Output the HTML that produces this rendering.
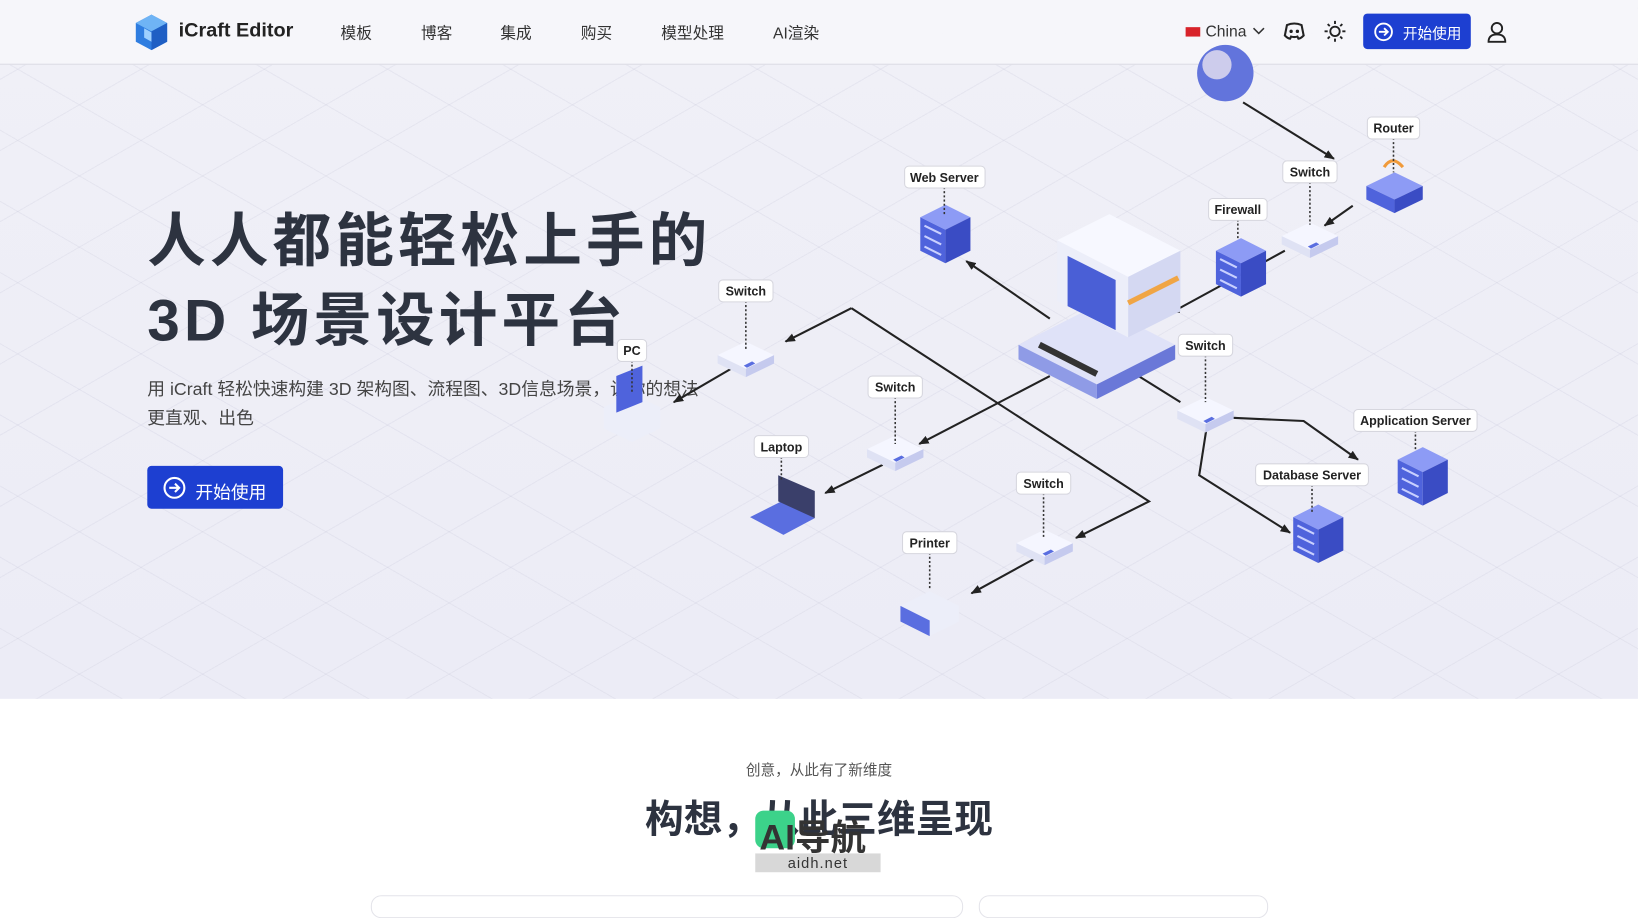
<!DOCTYPE html>
<html><head><meta charset="utf-8">
<style>
html,body{margin:0;padding:0;width:1638px;height:904px;overflow:hidden;background:#fff;}
#w{position:absolute;left:0;top:0;width:1568px;height:865px;transform:scale(1.0446);transform-origin:0 0;font-family:"Liberation Sans","Noto Sans CJK SC",sans-serif;}
.hero{position:absolute;left:0;top:0;width:1568px;height:669px;background:
repeating-linear-gradient(30deg,transparent 0 58px,rgba(190,190,210,.2) 58px 59px),
repeating-linear-gradient(-30deg,transparent 0 58px,rgba(190,190,210,.2) 58px 59px),
linear-gradient(180deg,#f0f0f7,#ececf6);}
.hdr{position:absolute;left:0;top:0;width:1568px;height:61px;background:rgba(246,246,250,.97);border-bottom:1px solid #dcdce4;}
.nav{position:absolute;top:21px;font-size:15px;color:#333;}
.t{position:absolute;white-space:nowrap;}
</style></head><body><div id="w">
<div class="hero"></div>
<div class="hdr">
<svg style="position:absolute;left:128px;top:13px" width="34" height="36" viewBox="0 0 34 36"><polygon points="17,1 32,9 32,27 17,35 2,27 2,9" fill="#2f7de0"/><polygon points="17,1 32,9 17,17 2,9" fill="#6fb4f5"/><polygon points="17,17 32,9 32,27 17,35" fill="#1f5fc4"/><polygon points="10,14 17,18 17,27 10,23" fill="#9dd0ff"/></svg>
<div class="t" style="left:171px;top:19px;font-size:19px;font-weight:bold;color:#222">iCraft Editor</div>
<div class="nav" style="left:326px">模板</div><div class="nav" style="left:403px">博客</div><div class="nav" style="left:479px">集成</div><div class="nav" style="left:556px">购买</div><div class="nav" style="left:633px">模型处理</div><div class="nav" style="left:740px">AI渲染</div>
<div style="position:absolute;left:1135px;top:26px;width:14px;height:9px;background:#d8232a"></div>
<div class="nav" style="left:1154px;top:22px">China</div>
<svg style="position:absolute;left:1199px;top:26px" width="12" height="8"><path d="M1 1l5 5 5-5" stroke="#333" stroke-width="1.5" fill="none"/></svg>
<svg style="position:absolute;left:1228px;top:20px" width="22" height="20" viewBox="0 0 22 20"><path d="M4 4q7-3 14 0l2 10q-3 3-5 3l-1-2q-3 1-6 0l-1 2q-2 0-5-3z" stroke="#222" stroke-width="2" fill="none"/><circle cx="8" cy="10" r="1.6" fill="#222"/><circle cx="14" cy="10" r="1.6" fill="#222"/></svg>
<svg style="position:absolute;left:1267px;top:19px" width="22" height="22" viewBox="0 0 22 22" stroke="#222" stroke-width="1.8" fill="none"><circle cx="11" cy="11" r="4.5"/><path d="M11 1v3M11 18v3M1 11h3M18 11h3M4 4l2 2M16 16l2 2M4 18l2-2M16 6l2-2"/></svg>
<div style="position:absolute;left:1305px;top:13px;width:103px;height:34px;background:#1d3fd1;border-radius:4px;color:#fff;font-size:14px">
<svg style="position:absolute;left:10px;top:8px" width="19" height="19" viewBox="0 0 19 19"><circle cx="9.5" cy="9.5" r="8" stroke="#fff" stroke-width="1.8" fill="none"/><path d="M5 9.5h8M10 6l3.5 3.5L10 13" stroke="#fff" stroke-width="1.8" fill="none"/></svg>
<span style="position:absolute;left:38px;top:9px">开始使用</span></div>
<svg style="position:absolute;left:1423px;top:20px" width="20" height="22" viewBox="0 0 20 22" stroke="#222" stroke-width="1.8" fill="none"><circle cx="10" cy="7" r="5"/><path d="M2 20q0-7 8-7t8 7z"/></svg>
</div>

<div class="t" style="left:141px;top:186px;font-size:56px;font-weight:bold;color:#2d3340;letter-spacing:4px">人人都能轻松上手的</div>
<div class="t" style="left:141px;top:262px;font-size:56px;font-weight:bold;color:#2d3340;letter-spacing:4px">3D 场景设计平台</div>
<div class="t" style="left:141px;top:359px;font-size:17px;color:#444;line-height:28px">用 iCraft 轻松快速构建 3D 架构图、流程图、3D信息场景，让你的想法<br>更直观、出色</div>
<div style="position:absolute;left:141px;top:446px;width:130px;height:41px;background:#1d3fd1;border-radius:4px;color:#fff;font-size:17px">
<svg style="position:absolute;left:15px;top:10px" width="22" height="22" viewBox="0 0 22 22"><circle cx="11" cy="11" r="9.5" stroke="#fff" stroke-width="2" fill="none"/><path d="M6 11h9M11.5 7l4 4-4 4" stroke="#fff" stroke-width="2" fill="none"/></svg>
<span style="position:absolute;left:46px;top:11px">开始使用</span></div>

<svg style="position:absolute;left:0;top:0" width="1568" height="669" viewBox="0 0 1568 669">
<defs>
<marker id="a" markerWidth="10" markerHeight="8" refX="9" refY="4" orient="auto" markerUnits="userSpaceOnUse"><path d="M0 0L10 4 0 8z" fill="#222"/></marker>
<g id="sw"><polygon points="-27,0 0,-13 27,0 0,13" fill="#f5f6ff"/><polygon points="-27,0 0,13 0,21 -27,8" fill="#dfe2f4"/><polygon points="0,13 27,0 27,8 0,21" fill="#c5caee"/><polygon points="-2,10 6,6 9,8 1,12" fill="#5a6ee0"/></g>
<g id="sv"><polygon points="-24,-10 0,-22 24,-10 0,2" fill="#8d9bf5"/><polygon points="-24,-10 0,2 0,34 -24,22" fill="#4f63dc"/><polygon points="0,2 24,-10 24,22 0,34" fill="#3a4cc4"/><path d="M-20,-2 -4,6 M-20,8 -4,16 M-20,18 -4,26" stroke="#c9d0ff" stroke-width="2"/></g>
</defs>
<g stroke="#222" stroke-width="2" fill="none">
<path d="M1190 98L1277 152" marker-end="url(#a)"/>
<path d="M1295 197L1268 216" marker-end="url(#a)"/>
<path d="M1230 240L1120 300" marker-end="url(#a)"/>
<path d="M1005 305L925 250" marker-end="url(#a)"/>
<path d="M815 295L752 327" marker-end="url(#a)"/>
<path d="M815 295L1100 480L1030 515" marker-end="url(#a)"/>
<path d="M990 535L930 568" marker-end="url(#a)"/>
<path d="M705 350L645 385" marker-end="url(#a)"/>
<path d="M1005 360L880 425" marker-end="url(#a)"/>
<path d="M845 445L790 472" marker-end="url(#a)"/>
<path d="M1090 360L1130 385"/>
<path d="M1180 400L1248 403L1300 440" marker-end="url(#a)"/>
<path d="M1155 410L1148 455L1235 510" marker-end="url(#a)"/>
</g>
<circle cx="1173" cy="70" r="27" fill="#6274dc"/><circle cx="1165" cy="62" r="14" fill="#e9e2f0" opacity=".8"/>
<use href="#sw" x="1254" y="226"/><use href="#sw" x="714" y="340"/><use href="#sw" x="857" y="430"/><use href="#sw" x="1000" y="520"/><use href="#sw" x="1154" y="393"/>
<use href="#sv" x="905" y="218"/><use href="#sv" x="1362" y="450"/><use href="#sv" x="1262" y="505"/>
<use href="#sv" x="1188" y="250"/>
<g><polygon points="1308,178 1335,165 1362,178 1335,191" fill="#8d9bf5"/><polygon points="1308,178 1335,191 1335,204 1308,191" fill="#4f63dc"/><polygon points="1335,191 1362,178 1362,191 1335,204" fill="#3a4cc4"/><path d="M1325 160q8-12 18 0" stroke="#f09a3a" stroke-width="3" fill="none"/></g>
<g><polygon points="975,330 1050,292 1125,330 1050,368" fill="#dfe2f8"/><polygon points="975,330 1050,368 1050,382 975,344" fill="#8f9be6"/><polygon points="1050,368 1125,330 1125,344 1050,382" fill="#6a78d8"/>
<polygon points="1012,230 1062,205 1130,240 1130,298 1080,323 1012,288" fill="#eceef9"/><polygon points="1012,230 1062,205 1130,240 1080,265" fill="#f7f8ff"/><polygon points="1080,265 1130,240 1130,298 1080,323" fill="#d4d8f2"/><polygon points="1022,245 1068,268 1068,316 1022,293" fill="#4a5fd6"/><path d="M1080 290 1128 266" stroke="#f0a545" stroke-width="5"/><path d="M995 330 1050 358" stroke="#333" stroke-width="6"/></g>
<g><polygon points="578,390 605,377 632,390 632,410 605,423 578,410" fill="#eceef9"/><polygon points="590,360 615,350 615,385 590,395" fill="#4f63dc"/></g>
<g><polygon points="718,495 748,480 780,496 750,512" fill="#5a6ee0"/><polygon points="745,455 780,470 780,496 745,480" fill="#3a3f6a"/></g>
<g><polygon points="862,580 890,566 918,580 918,595 890,609 862,595" fill="#eceef9"/><polygon points="862,580 890,594 890,609 862,595" fill="#5a6ee0"/></g>
<g font-family="Liberation Sans,sans-serif" font-size="12" font-weight="bold" fill="#222" text-anchor="middle">
<g stroke="#333" stroke-dasharray="2 2" stroke-width="1.5">
<path d="M1334 132V165M1254 174V215M1185 210V230M904 179V205M714 288V335M605 345V375M857 380V425M748 437V460M1154 340V385M1355 412V430M1256 464V490M999 472V515M890 529V565"/></g>
<g fill="#fff" stroke="#d6d6de">
<rect x="1309" y="112" width="50" height="21" rx="4"/><rect x="1228" y="154" width="52" height="21" rx="4"/><rect x="1157" y="190" width="56" height="21" rx="4"/><rect x="866" y="159" width="77" height="21" rx="4"/><rect x="688" y="268" width="52" height="21" rx="4"/><rect x="591" y="325" width="28" height="21" rx="4"/><rect x="831" y="360" width="52" height="21" rx="4"/><rect x="722" y="417" width="52" height="21" rx="4"/><rect x="1128" y="320" width="52" height="21" rx="4"/><rect x="1296" y="392" width="118" height="21" rx="4"/><rect x="1202" y="444" width="108" height="21" rx="4"/><rect x="973" y="452" width="52" height="21" rx="4"/><rect x="864" y="509" width="52" height="21" rx="4"/></g>
<text x="1334" y="127">Router</text><text x="1254" y="169">Switch</text><text x="1185" y="205">Firewall</text><text x="904" y="174">Web Server</text><text x="714" y="283">Switch</text><text x="605" y="340">PC</text><text x="857" y="375">Switch</text><text x="748" y="432">Laptop</text><text x="1154" y="335">Switch</text><text x="1355" y="407">Application Server</text><text x="1256" y="459">Database Server</text><text x="999" y="467">Switch</text><text x="890" y="524">Printer</text>
</g>
</svg>

<div class="t" style="left:0;width:1568px;text-align:center;top:727px;font-size:14px;color:#555">创意，从此有了新维度</div>
<div class="t" style="left:0;width:1568px;text-align:center;top:754px;font-size:37px;font-weight:bold;color:#2d3340">构想，从此三维呈现</div>
<div style="position:absolute;left:723px;top:776px;width:38px;height:36px;background:#3cd28a;border-radius:8px"></div>
<div class="t" style="left:727px;top:774px;font-size:34px;font-weight:bold;color:#333">AI导航</div>
<div style="position:absolute;left:723px;top:817px;width:120px;height:18px;background:#d8d8d8;color:#333;font-size:14px;text-align:center;letter-spacing:1px;line-height:18px">aidh.net</div>
<div style="position:absolute;left:355px;top:857px;width:565px;height:20px;border:1px solid #e4e4ea;border-radius:10px"></div>
<div style="position:absolute;left:937px;top:857px;width:275px;height:20px;border:1px solid #e4e4ea;border-radius:10px"></div>
</div></body></html>
